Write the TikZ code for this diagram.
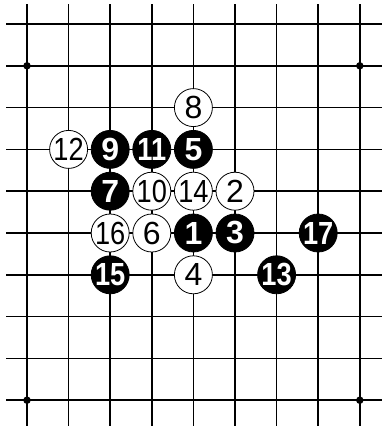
\documentclass[tikz,border=0pt]{standalone}
\usepackage{fontspec}
\setmainfont{Liberation Sans}
\newcommand{\tw}[1]{\scalebox{0.85}[1]{#1}}
\begin{document}
\begin{tikzpicture}[x=1pt,y=-1pt,
  grid/.style={line width=1.6pt,black},
  hoshi/.style={circle,fill=black,inner sep=0pt,minimum size=7.5pt},
  wnum/.style={inner sep=0pt,text=black,font=\fontsize{32}{32}\selectfont},
  bnum/.style={inner sep=0pt,text=white,font=\fontsize{32}{32}\selectfont\bfseries},
  wst/.style={circle,draw=black,line width=0.8pt,fill=white,inner sep=0pt,minimum size=38pt,label={[wnum]center:#1}},
  bst/.style={circle,draw=black,line width=0.8pt,fill=black,inner sep=0pt,minimum size=38pt,label={[bnum]center:#1}}]
\useasboundingbox (0,0) rectangle (382,426);
\fill[white] (0,0) rectangle (382,426);
\foreach \i in {0,...,8} \draw[grid] ({27+41.6*\i},4) -- ({27+41.6*\i},426);
\foreach \j in {0,...,9} \draw[grid] (6,{24+41.8*\j}) -- (382,{24+41.8*\j});
\newcommand{\gpos}[2]{({27+41.6*#1},{24+41.8*#2})}
\node[hoshi] (h1) at \gpos{0}{1} {};
\node[hoshi] (h2) at \gpos{8}{1} {};
\node[hoshi] (h3) at \gpos{0}{9} {};
\node[hoshi] (h4) at \gpos{8}{9} {};
\node[wst={8}] (s8) at \gpos{4}{2} {};
\node[wst={\tw{12}}] (s12) at \gpos{1}{3} {};
\node[bst={9}] (s9) at \gpos{2}{3} {};
\node[bst={\tw{11}}] (s11) at \gpos{3}{3} {};
\node[bst={5}] (s5) at \gpos{4}{3} {};
\node[bst={7}] (s7) at \gpos{2}{4} {};
\node[wst={\tw{10}}] (s10) at \gpos{3}{4} {};
\node[wst={\tw{14}}] (s14) at \gpos{4}{4} {};
\node[wst={2}] (s2) at \gpos{5}{4} {};
\node[wst={\tw{16}}] (s16) at \gpos{2}{5} {};
\node[wst={6}] (s6) at \gpos{3}{5} {};
\node[bst={1}] (s1) at \gpos{4}{5} {};
\node[bst={3}] (s3) at \gpos{5}{5} {};
\node[bst={\tw{17}}] (s17) at \gpos{7}{5} {};
\node[bst={\tw{15}}] (s15) at \gpos{2}{6} {};
\node[wst={4}] (s4) at \gpos{4}{6} {};
\node[bst={\tw{13}}] (s13) at \gpos{6}{6} {};
\end{tikzpicture}
\end{document}
